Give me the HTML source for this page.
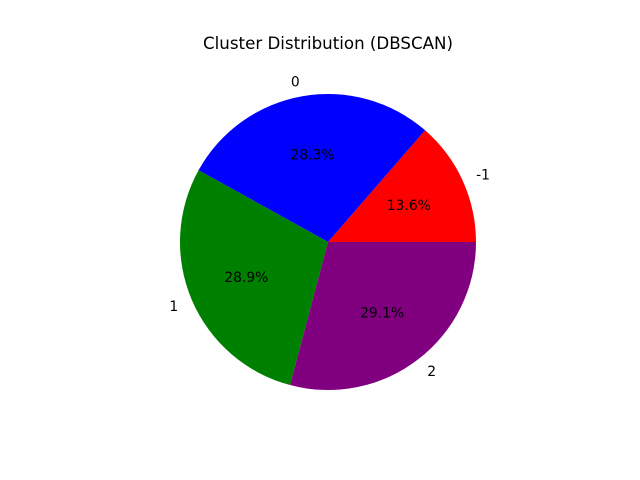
<!DOCTYPE html>
<html><head><meta charset="utf-8"><style>
body{margin:0;background:#fff}
svg{display:block;font-family:"DejaVu Sans","Liberation Sans",sans-serif}
</style></head><body>
<svg id="chart" width="640" height="480">
<text x="328" y="49" text-anchor="middle" font-size="16.67">Cluster Distribution (DBSCAN)</text>
<g id="slices"></g>
</svg>
<script>
const categories = ["-1", "0", "1", "2"];
const values = [13.6, 28.3, 28.9, 29.1];
const colors = ["red", "blue", "green", "purple"];
const cx = 328, cy = 242, r = 148;
const g = document.getElementById('slices');
const ns = 'http://www.w3.org/2000/svg';
const total = values.reduce((a,b)=>a+b,0);
function pt(a, rad){ return [cx + rad*Math.cos(a), cy - rad*Math.sin(a)]; }
let start = 0;
values.forEach((v,i)=>{
  const sweep = v/total*2*Math.PI;
  const end = start + sweep;
  const [x1,y1] = pt(start, r), [x2,y2] = pt(end, r);
  const p = document.createElementNS(ns,'path');
  p.setAttribute('d', `M${cx},${cy} L${x1},${y1} A${r},${r} 0 ${sweep>Math.PI?1:0} 0 ${x2},${y2} Z`);
  p.setAttribute('fill', colors[i]);
  
  
  g.appendChild(p);
  const mid = (start+end)/2;
  const [lx,ly] = pt(mid, r*1.1);
  const t = document.createElementNS(ns,'text');
  t.setAttribute('x', lx); t.setAttribute('y', ly+5);
  t.setAttribute('font-size','13.89');
  t.setAttribute('text-anchor', Math.cos(mid)>0 ? 'start' : 'end');
  t.textContent = categories[i];
  
  
  g.appendChild(t);
  const [px,py] = pt(mid, r*0.6);
  const t2 = document.createElementNS(ns,'text');
  t2.setAttribute('x', px); t2.setAttribute('y', py+5);
  t2.setAttribute('font-size','13.89');
  t2.setAttribute('text-anchor','middle');
  t2.textContent = (v/total*100).toFixed(1) + '%';
  
  
  g.appendChild(t2);
  start = end;
});
</script>
</body></html>
